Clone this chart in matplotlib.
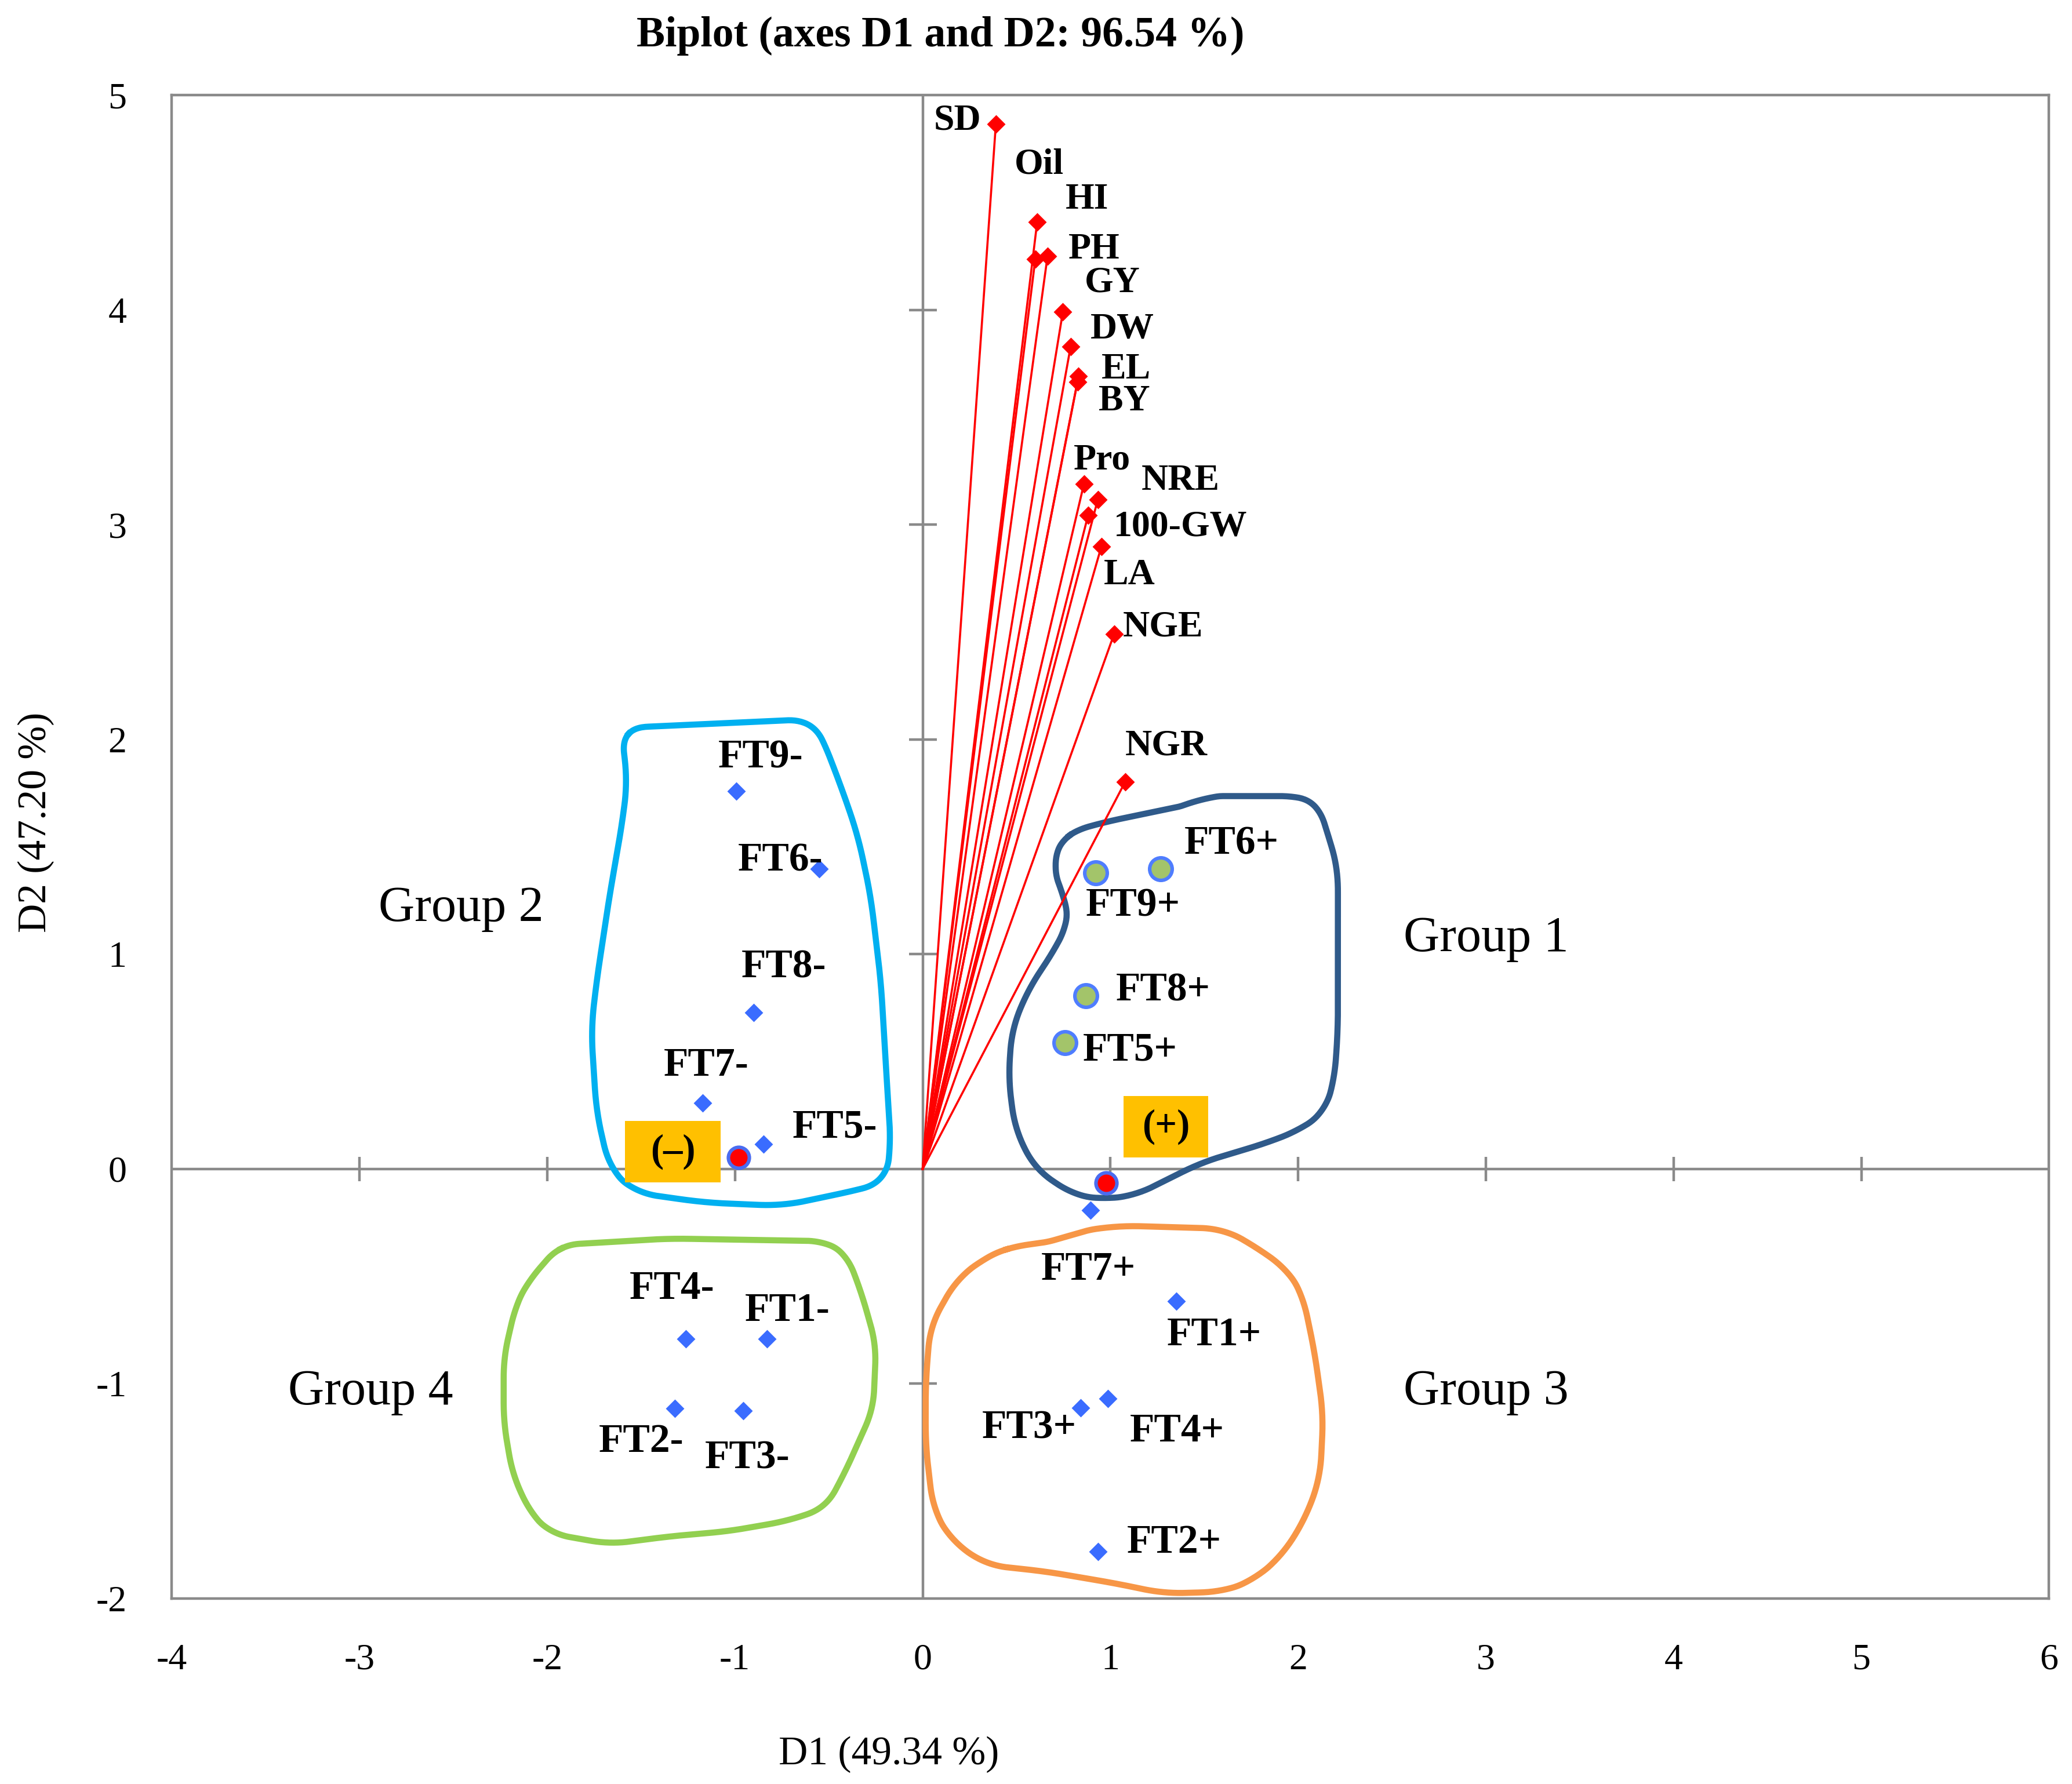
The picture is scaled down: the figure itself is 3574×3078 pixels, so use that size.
import numpy as np
import matplotlib
matplotlib.use("Agg")
import matplotlib.pyplot as plt
from matplotlib.patches import Rectangle

plt.rcParams['font.family'] = ['Liberation Serif', 'DejaVu Serif']
plt.rcParams['axes.unicode_minus'] = False

# ---------------- data ----------------
var_names = ["SD", "Oil", "HI", "PH", "GY", "DW", "EL", "BY", "Pro", "NRE",
             "100-GW", "LA", "NGE", "NGR"]
var_d1 = [0.39, 0.60, 0.61, 0.665, 0.747, 0.788, 0.83, 0.825, 0.859, 0.933,
          0.881, 0.952, 1.02, 1.078]
var_d2 = [4.866, 4.237, 4.409, 4.249, 3.992, 3.828, 3.69, 3.665, 3.189, 3.117,
          3.043, 2.898, 2.491, 1.801]

obs_names = ["FT9-", "FT6-", "FT8-", "FT7-", "FT5-", "FT4-", "FT1-", "FT2-", "FT3-",
             "FT7+", "FT1+", "FT3+", "FT4+", "FT2+"]
obs_d1 = [-0.993, -0.552, -0.901, -1.172, -0.847, -1.263, -0.830, -1.319, -0.956,
          0.893, 1.350, 0.843, 0.988, 0.933]
obs_d2 = [1.759, 1.398, 0.728, 0.306, 0.115, -0.792, -0.792, -1.114, -1.126,
          -0.193, -0.615, -1.113, -1.069, -1.783]

g1_names = ["FT6+", "FT9+", "FT8+", "FT5+"]
g1_d1 = [1.269, 0.923, 0.868, 0.758]
g1_d2 = [1.398, 1.379, 0.806, 0.588]

centroid_names = ["(–)", "(+)"]
centroid_d1 = [-0.982, 0.977]
centroid_d2 = [0.053, -0.066]

group_names = ["Group 1", "Group 2", "Group 3", "Group 4"]
group_label_d1 = [3.00, -2.46, 3.00, -2.94]
group_label_d2 = [1.07, 1.21, -1.04, -1.04]

# hand-drawn group outlines
outline_g1_d1 = [0.776, 0.953, 1.467, 1.485, 2.017, 2.106, 2.194, 2.212, 2.212, 2.194,
                 2.141, 2.017, 1.840, 1.485, 1.308, 1.131, 0.953, 0.811, 0.599, 0.492,
                 0.457, 0.475, 0.563, 0.705, 0.776, 0.776, 0.723, 0.696, 0.723]
outline_g1_d2 = [1.566, 1.612, 1.705, 1.736, 1.736, 1.705, 1.457, 1.395, 0.650, 0.418,
                 0.263, 0.185, 0.123, 0.030, -0.047, -0.125, -0.141, -0.125, -0.001, 0.185,
                 0.418, 0.650, 0.837, 1.023, 1.147, 1.240, 1.302, 1.426, 1.519]
outline_g2_d1 = [-1.593, -0.593, -0.538, -0.429, -0.345, -0.277, -0.222, -0.197, -0.169,
                 -0.197, -0.331, -0.746, -1.158, -1.534, -1.668, -1.738, -1.766, -1.738,
                 -1.668, -1.600, -1.572, -1.606]
outline_g2_d2 = [2.054, 2.094, 2.015, 1.767, 1.552, 1.272, 0.868, 0.496, 0.107,
                 -0.062, -0.095, -0.172, -0.157, -0.111, 0.0, 0.265, 0.650, 0.868,
                 1.272, 1.613, 1.813, 2.032]
outline_g3_d1 = [0.449, 0.748, 0.811, 1.048, 1.599, 1.756, 1.945, 2.024, 2.087, 2.134,
                 2.118, 2.040, 1.914, 1.756, 1.599, 1.284, 1.048, 0.654, 0.339, 0.150,
                 0.055, 0.016, 0.016, 0.040, 0.181, 0.339]
outline_g3_d2 = [-0.366, -0.330, -0.293, -0.264, -0.278, -0.352, -0.469, -0.586, -0.849,
                 -1.142, -1.435, -1.625, -1.801, -1.918, -1.969, -1.977, -1.933, -1.874,
                 -1.845, -1.728, -1.581, -1.288, -0.996, -0.732, -0.513, -0.410]
outline_g4_d1 = [-1.933, -1.350, -0.515, -0.405, -0.326, -0.248, -0.263, -0.326, -0.405,
                 -0.515, -0.720, -1.035, -1.350, -1.665, -1.980, -2.090, -2.185, -2.232,
                 -2.232, -2.169, -2.106, -2.059]
outline_g4_d2 = [-0.354, -0.324, -0.336, -0.396, -0.577, -0.818, -1.120, -1.240, -1.397,
                 -1.578, -1.639, -1.687, -1.711, -1.747, -1.699, -1.602, -1.421, -1.180,
                 -0.879, -0.638, -0.529, -0.481]

xticks = [-4, -3, -2, -1, 0, 1, 2, 3, 4, 5, 6]
yticks = [-2, -1, 0, 1, 2, 3, 4, 5]

# label offsets (data units) – layout only
var_off = {"SD": (-0.205, 0.013), "Oil": (0.021, 0.439), "HI": (0.266, 0.103),
           "PH": (0.249, 0.031), "GY": (0.265, 0.133), "DW": (0.276, 0.081),
           "EL": (0.253, 0.03), "BY": (0.25, -0.092), "Pro": (0.098, 0.109),
           "NRE": (0.441, 0.086), "100-GW": (0.493, -0.055), "LA": (0.149, -0.134),
           "NGE": (0.26, 0.031), "NGR": (0.221, 0.168)}
obs_off = {"FT9-": (0.131, 0.155), "FT6-": (-0.207, 0.036), "FT8-": (0.163, 0.209),
           "FT7-": (0.02, 0.174), "FT5-": (0.378, 0.078), "FT4-": (-0.071, 0.233),
           "FT1-": (0.11, 0.13), "FT2-": (-0.181, -0.157), "FT3-": (0.023, -0.223),
           "FT6+": (0.376, 0.113), "FT9+": (0.199, -0.155), "FT8+": (0.413, 0.023),
           "FT5+": (0.346, -0.038), "FT7+": (-0.011, -0.276), "FT1+": (0.202, -0.161),
           "FT3+": (-0.276, -0.095), "FT4+": (0.367, -0.154), "FT2+": (0.406, 0.041)}
# yellow sign boxes: (x0, y0, w, h) in data units – layout only
sign_boxes = {"(–)": (-1.586, -0.063, 0.51, 0.287), "(+)": (1.069, 0.053, 0.452, 0.287)}


def smooth_outline(xs, ys, n=800, win=0.035, yscale=1.14):
    """Resample a closed hand-drawn outline evenly and round its corners."""
    P = np.column_stack([xs, np.asarray(ys) * yscale])
    P = np.vstack([P, P[:1]])
    seg = np.hypot(*np.diff(P, axis=0).T)
    s = np.concatenate([[0], np.cumsum(seg)])
    L = s[-1]
    u = np.linspace(0, L, n, endpoint=False)
    X = np.interp(u, s, P[:, 0])
    Y = np.interp(u, s, P[:, 1])
    k = max(3, int(n * win))
    kern = np.ones(k) / k
    Xs = np.convolve(np.concatenate([X[-k:], X, X[:k]]), kern, mode='same')[k:-k]
    Ys = np.convolve(np.concatenate([Y[-k:], Y, Y[:k]]), kern, mode='same')[k:-k]
    Xs = np.append(Xs, Xs[0])
    Ys = np.append(Ys, Ys[0]) / yscale
    return Xs, Ys


fig = plt.figure(figsize=(17.87, 15.39), dpi=200)
ax = fig.add_axes([0.0829, 0.104, 0.906, 0.8427])
ax.set_xlim(-4, 6)
ax.set_ylim(-2, 5)

gray = '#8a8a8a'
for s in ax.spines.values():
    s.set_color(gray)
    s.set_linewidth(1.6)

ax.set_xticks(xticks)
ax.set_yticks(yticks)
ax.tick_params(length=0, labelsize=23, colors='black')
ax.tick_params(axis='x', pad=28)
ax.tick_params(axis='y', pad=28)

# central axes with crossing tick marks
ax.axhline(0, color=gray, lw=1.6, zorder=1)
ax.axvline(0, color=gray, lw=1.6, zorder=1)
xt = [v for v in xticks if v not in (0, -4, 6)]
yt = [v for v in yticks if v not in (0, -2, 5)]
ax.plot(xt, [0] * len(xt), ls='none', marker='|', ms=15, mew=1.6, color=gray, zorder=1)
ax.plot([0] * len(yt), yt, ls='none', marker='_', ms=17, mew=1.6, color=gray, zorder=1)

# group outlines
outline_colors = ['#2f5a8a', '#00b0f0', '#f79646', '#92d050']
outlines = [(outline_g1_d1, outline_g1_d2), (outline_g2_d1, outline_g2_d2),
            (outline_g3_d1, outline_g3_d2), (outline_g4_d1, outline_g4_d2)]
for (ox, oy), c in zip(outlines, outline_colors):
    sx, sy = smooth_outline(ox, oy)
    ax.plot(sx, sy, color=c, lw=3.8, solid_joinstyle='round', zorder=2)

# variable vectors
for n, x, y in zip(var_names, var_d1, var_d2):
    ax.plot([0, x], [0, y], color='red', lw=1.3, zorder=3)
ax.plot(var_d1, var_d2, ls='none', marker='D', ms=7, color='red', zorder=4)
for n, x, y in zip(var_names, var_d1, var_d2):
    dx, dy = var_off[n]
    ax.text(x + dx, y + dy, n, fontsize=23, fontweight='bold', ha='center', va='center',
            zorder=6)

# observations
ax.plot(obs_d1, obs_d2, ls='none', marker='D', ms=7, color='#3a6cff', zorder=4)
ax.plot(g1_d1, g1_d2, ls='none', marker='o', ms=14, mfc='#a3c46a', mec='#4f7dff',
        mew=2.2, zorder=4)
for n, x, y in list(zip(obs_names, obs_d1, obs_d2)) + list(zip(g1_names, g1_d1, g1_d2)):
    dx, dy = obs_off[n]
    ax.text(x + dx, y + dy, n, fontsize=25, fontweight='bold', ha='center', va='center',
            zorder=6)

# sign boxes
for n in centroid_names:
    x0, y0, w, h = sign_boxes[n]
    ax.add_patch(Rectangle((x0, y0), w, h, facecolor='#ffc000', edgecolor='none', zorder=3))
    ax.text(x0 + w / 2, y0 + h / 2, n, fontsize=24, fontweight='bold', ha='center',
            va='center', zorder=6)

# centroids
ax.plot(centroid_d1, centroid_d2, ls='none', marker='o', ms=13, mfc='#ff0000',
        mec='#4a6cf0', mew=2.2, zorder=5)

# group labels
for n, x, y in zip(group_names, group_label_d1, group_label_d2):
    ax.text(x, y, n, fontsize=31, ha='center', va='center', zorder=6)

fig.text(0.454, 0.980, "Biplot (axes D1 and D2: 96.54 %)", fontsize=26.5, fontweight='bold',
         ha='center', va='center')
fig.text(0.429, 0.0166, "D1 (49.34 %)", fontsize=25, ha='center', va='center')
fig.text(0.0175, 0.539, "D2 (47.20 %)", fontsize=25, ha='center', va='center', rotation=90)

fig.savefig("out.png", dpi=200)
